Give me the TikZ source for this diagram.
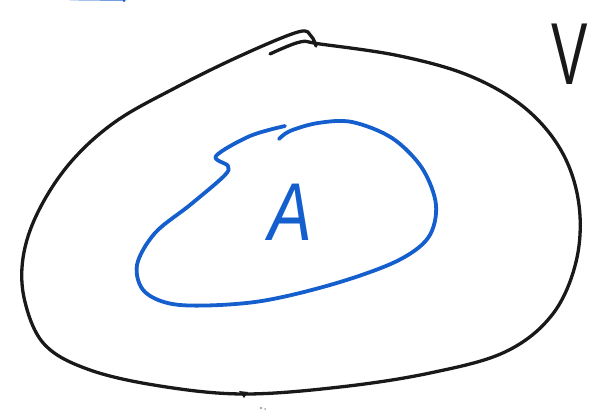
\documentclass[tikz,border=0pt]{standalone}
\usepackage{fontspec}
\setmainfont{Liberation Sans}
\definecolor{penblue}{RGB}{20,95,205}
\definecolor{penblack}{RGB}{25,25,25}
\tikzset{
  blackpen/.style={draw=penblack, line width=3.3pt, line cap=round, line join=round},
  bluepen/.style={draw=penblue, line width=3.8pt, line cap=round, line join=round},
  letter/.style={inner sep=0pt, font=\fontsize{88}{88}\selectfont}
}
\begin{document}
\begin{tikzpicture}[x=1pt,y=-1pt]
\useasboundingbox (0,0) rectangle (606,420);
% outer set V
\draw[blackpen] plot[smooth, tension=0.6] coordinates {
 (270,54) (300,42) (320,44) (400,56) (470,76) (525,108) (562,152) (579,205)
 (576,262) (552,315) (505,352) (430,373) (340,387) (243,394) (160,386)
 (90,370) (45,345) (25,302) (23,258) (38,212) (70,163) (115,122) (175,88)
 (240,56) (298,32) (311,36) (316,46)};
\fill[penblack] (239,391) -- (248,392) -- (244,398) -- cycle;
% subset A
\draw[bluepen] plot[smooth, tension=0.55] coordinates {
 (285,126) (250,136) (216,156) (228,166) (224,176) (190,205) (155,233)
 (137,265) (145,292) (180,305) (255,302) (330,285) (395,262) (428,238)
 (436,205) (422,168) (392,138) (352,122) (318,123) (290,131) (279,139)};
% labels
\node[letter, text=penblue, xscale=0.8, font=\fontsize{82}{82}\selectfont\itshape] (A) at (290,212) {A};
\node[letter, text=penblack, xscale=0.62] (V) at (570,54) {V};
% stray marks
\draw[draw=penblue!60, line width=1.2pt, line cap=round] (70,-0.2) -- (122,0.4);
\fill[penblue] (124,0.5) circle (1.6);
\fill[gray!70] (261,408) circle (1.3);
\fill[gray!70] (265,409) circle (1);
\end{tikzpicture}
\end{document}
